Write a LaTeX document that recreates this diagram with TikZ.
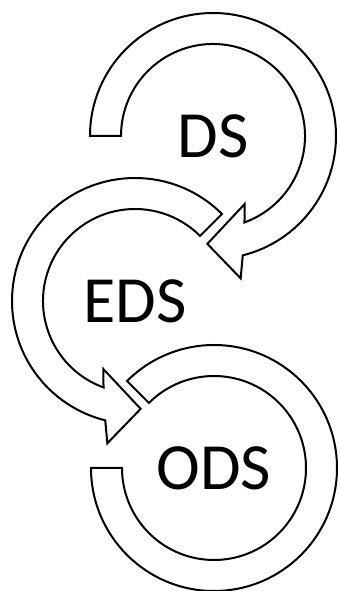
\documentclass[tikz,border=0pt]{standalone}
\usepackage{fontspec}
\setmainfont{Carlito}

\begin{document}
\begin{tikzpicture}[
    x=1pt, y=1pt,
    stage/.style={font=\fontsize{66}{72}\selectfont, inner sep=0pt},
    band/.style={draw, line width=2pt, fill=white, line join=miter}
]
\useasboundingbox (0,0) rectangle (337,591);

\node[stage] (ds)  at (213,455) {DS};
\node[stage] (eds) at (135,290) {EDS};
\node[stage] (ods) at (214,123) {ODS};

% DS loop, clockwise, head pointing into EDS
\draw[band] ([shift={(180:123)}]ds.center) arc[start angle=180, end angle=-76, radius=123]
    -- ([shift={(-79:145)}]ds.center) -- ([shift={(-93:108)}]ds.center)
    -- ([shift={(-65:75)}]ds.center) -- ([shift={(-70:92)}]ds.center)
    arc[start angle=-70, end angle=180, radius=92] -- cycle;

% EDS loop, counter-clockwise, head pointing into ODS
\draw[band] ([shift={(45:123)}]eds.center) arc[start angle=45, end angle=256, radius=123]
    -- ([shift={(259:145)}]eds.center) -- ([shift={(273:108)}]eds.center)
    -- ([shift={(245:75)}]eds.center) -- ([shift={(250:92)}]eds.center)
    arc[start angle=250, end angle=45, radius=92] -- cycle;

% ODS loop, no head
\draw[band] ([shift={(180:123)}]ods.center) arc[start angle=180, end angle=495, radius=123]
    -- ([shift={(135:92)}]ods.center)
    arc[start angle=495, end angle=180, radius=92] -- cycle;
\end{tikzpicture}
\end{document}
